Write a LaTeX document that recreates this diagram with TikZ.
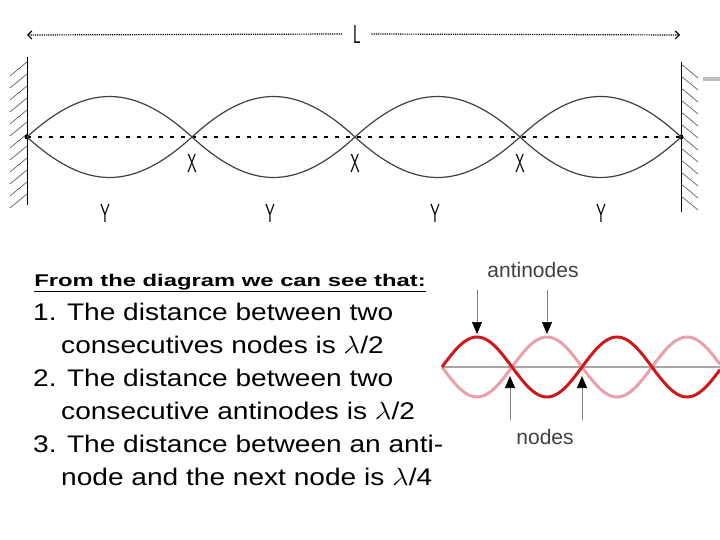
\documentclass[tikz,border=0pt]{standalone}
\usepackage{fontspec}
\setmainfont{Liberation Sans}
\usetikzlibrary{arrows.meta,calc}
\definecolor{lpink}{RGB}{234,160,170}
\definecolor{dred}{RGB}{205,25,25}
\begin{document}
\begin{tikzpicture}[x=1pt,y=-1pt,
  wave/.style={line width=1.2pt,black!75},
  hatch/.style={black!70,line width=0.6pt},
  lbl/.style={font=\fontsize{20}{20}\selectfont\sffamily,inner sep=0,xscale=0.75,yscale=1.3,transform shape},
  item/.style={font=\fontsize{24}{24}\selectfont,anchor=base west,inner sep=0,xscale=1.17,transform shape},
  ann/.style={gray,line width=0.7pt,-{Triangle[length=12pt,width=10pt,black]}}]
\useasboundingbox[fill=white] (0,0) rectangle (720,540);
% dimension arrow
\node[lbl,inner xsep=14pt] (L) at (357,34) {L};
\coordinate (La) at (27,35); \coordinate (Lb) at (680,35);
\draw[densely dotted,line width=1.2pt,{Straight Barb[length=4pt]}-] (La) -- (L.west);
\draw[densely dotted,line width=1.2pt,-{Straight Barb[length=4pt]}] (L.east) -- (Lb);
% walls
\draw[line width=1pt] (27,57) -- (27,205);
\foreach \y in {62,74,...,200} \draw[hatch] (27,\y) -- (10,\y+14);
\draw[line width=1pt] (681,62) -- (681,212);
\foreach \y in {64,76,...,206} \draw[hatch] (681,\y) -- (698,\y+14);
\fill[gray!50] (703,77) rectangle (720,81);
% nodes
\coordinate (n0) at (27,137); \coordinate (n1) at (192,137);
\coordinate (n2) at (355,137); \coordinate (n3) at (520,137);
\coordinate (n4) at (681,137);
\fill (n0) circle (2.5pt); \fill (n4) circle (2.5pt);
\draw[line width=2pt,dash pattern=on 4pt off 7pt] (n0) -- (n4);
\foreach \a/\b in {n0/n1,n1/n2,n2/n3,n3/n4}{
  \draw[wave] (\a) .. controls ($(\a)!0.36!(\b)+(0,-54)$) and ($(\a)!0.64!(\b)+(0,-54)$) .. (\b);
  \draw[wave] (\a) .. controls ($(\a)!0.36!(\b)+(0,54)$) and ($(\a)!0.64!(\b)+(0,54)$) .. (\b);
}
\foreach \x in {192,355,520} \node[lbl] at (\x,163) {X};
\foreach \x in {105,270,435,601} \node[lbl] at (\x,213) {Y};
% text
\node[font=\bfseries\fontsize{17}{17}\selectfont,anchor=base west,inner sep=0,xscale=1.4,transform shape] (hd) at (34,286) {\underline{From the diagram we can see that:}};
\node[item] (t1) at (33,320) {1. The distance between two};
\node[item] (t2) at (61,353) {consecutives nodes is $\lambda$/2};
\node[item] (t3) at (33,386) {2. The distance between two};
\node[item] (t4) at (61,419) {consecutive antinodes is $\lambda$/2};
\node[item] (t5) at (33,452) {3. The distance between an anti-};
\node[item] (t6) at (61,485) {node and the next node is $\lambda$/4};
% standing wave picture
\draw[gray!70,line width=2pt] (442,367) -- (720,367);
\draw[lpink,line width=3pt,domain=0:278,samples=120] plot ({442+\x},{367+30*sin(\x/140*360)});
\draw[dred,line width=3pt,domain=0:278,samples=120] plot ({442+\x},{367-30*sin(\x/140*360)});
\node[font=\fontsize{21}{21}\selectfont,text=black!75,inner sep=0] (an) at (533,270) {antinodes};
\node[font=\fontsize{21}{21}\selectfont,text=black!75,inner sep=0] (nd) at (545,437) {nodes};
\coordinate (a1) at (477,334); \coordinate (a2) at (547,334);
\coordinate (b1) at (510,376); \coordinate (b2) at (582,376);
\draw[ann] (477,290) -- (a1); \draw[ann] (547,290) -- (a2);
\draw[ann] (510,420) -- (b1); \draw[ann] (582,420) -- (b2);
\end{tikzpicture}
\end{document}
